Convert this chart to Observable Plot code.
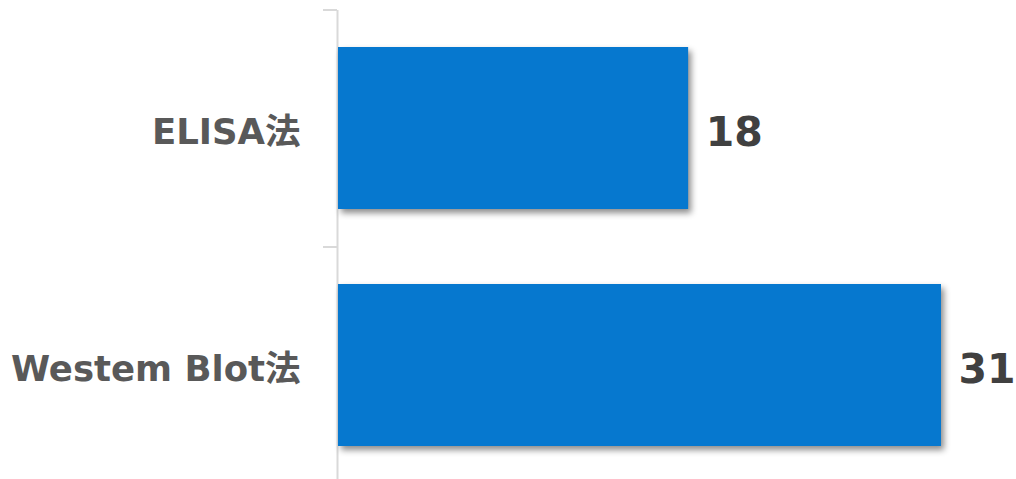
<!DOCTYPE html>
<html>
<head>
<meta charset="utf-8">
<script src="https://cdn.jsdelivr.net/npm/d3@7"></script>
<script src="https://cdn.jsdelivr.net/npm/@observablehq/plot@0.6"></script>
<style>
  html, body { margin: 0; padding: 0; background: #fff; }
  #chart svg { display: block; }
</style>
</head>
<body>
<div id="chart"></div>
<script>
const categories = ["ELISA法", "Westem Blot法"];
const values = [18, 31];
const data = categories.map((c, i) => ({category: c, value: values[i]}));

const plot = Plot.plot({
  width: 1016,
  height: 479,
  marginLeft: 338,
  marginRight: 75,
  marginTop: 10,
  marginBottom: -5,
  style: {background: "#fff", overflow: "visible"},
  x: {domain: [0, 31], axis: null},
  y: {domain: categories, paddingInner: 0.316, paddingOuter: 0.158, axis: null},
  marks: [
    Plot.ruleX([0], {stroke: "#d9d9d9", strokeWidth: 2, dx: -1}),
    Plot.axisY({
      ticks: categories, tickSize: 14, dy: -118.5, dx: -1, stroke: "#d9d9d9",
      strokeWidth: 2, text: null, label: null
    }),
    Plot.axisY({
      ticks: categories, tickSize: 0, tickPadding: 38, dy: 4,
      fill: "#595959", fontSize: 35.5, fontWeight: "bold",
      fontFamily: "'DejaVu Sans', 'Noto Sans CJK JP', Verdana, sans-serif", label: null
    }),
    Plot.barX(data, {x: "value", y: "category", fill: "#0678CF"}),
    Plot.text(data, {
      x: "value", y: "category", text: d => String(d.value),
      textAnchor: "start", dx: 17, dy: 4, fill: "#404040", fontSize: 41,
      fontWeight: "bold", fontFamily: "'DejaVu Sans', Verdana, sans-serif"
    })
  ]
});
d3.select(plot).selectAll("g[aria-label='bar'] rect")
  .style("filter", "drop-shadow(3px 4px 3px rgba(0,0,0,0.45))");
document.getElementById("chart").appendChild(plot);
</script>
</body>
</html>
